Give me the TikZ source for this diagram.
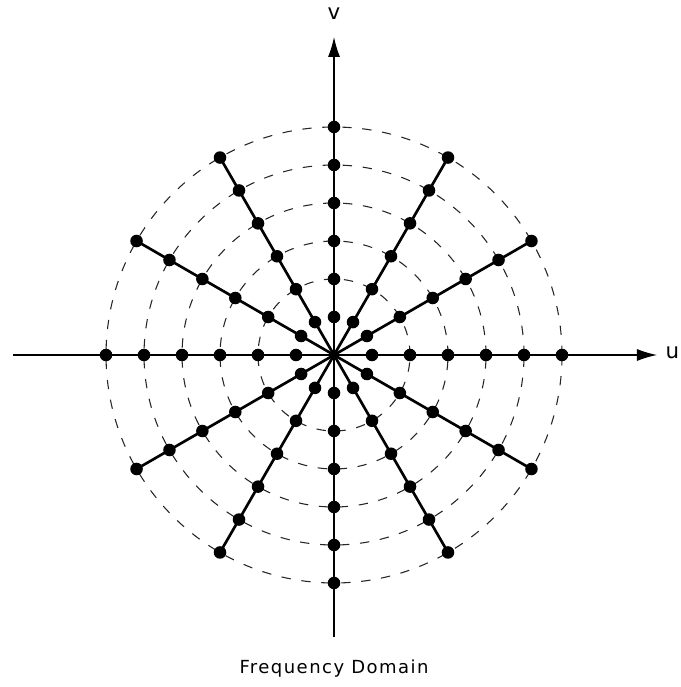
\documentclass[tikz,border=0pt]{standalone}
\usepackage{fontspec}
\usepackage{tikz}
\usetikzlibrary{arrows.meta}
\newfontfamily\labelfont{DejaVu Sans}
\newfontfamily\captionfont[LetterSpace=8]{DejaVu Sans}

\begin{document}
\begin{tikzpicture}[x=1cm, y=1cm,
    dot/.style={circle, fill, inner sep=0pt, minimum size=0.33cm},
    ring/.style={dash pattern=on 7pt off 8pt, line width=0.8pt, black!85},
    spoke/.style={line width=2pt},
    axis/.style={-{Latex[length=15pt, width=9pt]}, line width=0.9pt}]

  \useasboundingbox (-8.79,-8.737) rectangle (9.105,9.342);

  % Rings
  \foreach \r in {2,...,6}
    \draw[ring] (0,0) circle (\r);

  % Nodes
  \coordinate (o) at (0,0);
  \coordinate (uleft) at (-8.45,0);
  \coordinate (uright) at (8.5,0);
  \coordinate (vbottom) at (0,-7.42);
  \coordinate (vtop) at (0,8.37);
  \foreach \a in {0,30,...,330}
    \foreach \r in {1,...,6}
      \node[dot] (p\a-\r) at (\a:\r) {};

  \node[anchor=west, inner sep=0pt, font=\labelfont\fontsize{16}{18}\selectfont] (ulabel) at (8.72,0.05) {u};
  \node[inner sep=0pt, font=\labelfont\fontsize{16}{18}\selectfont] (vlabel) at (0,8.98) {v};
  \node[inner sep=0pt, font=\captionfont\fontsize{13.5}{15}\selectfont] (caption) at (0,-8.24) {Frequency Domain};

  % Spokes
  \foreach \a in {0,30,...,330}
    \draw[spoke] (o) -- (p\a-6.center);

  % Arrows
  \draw[axis] (uleft) -- (uright);
  \draw[axis] (vbottom) -- (vtop);

\end{tikzpicture}
\end{document}
